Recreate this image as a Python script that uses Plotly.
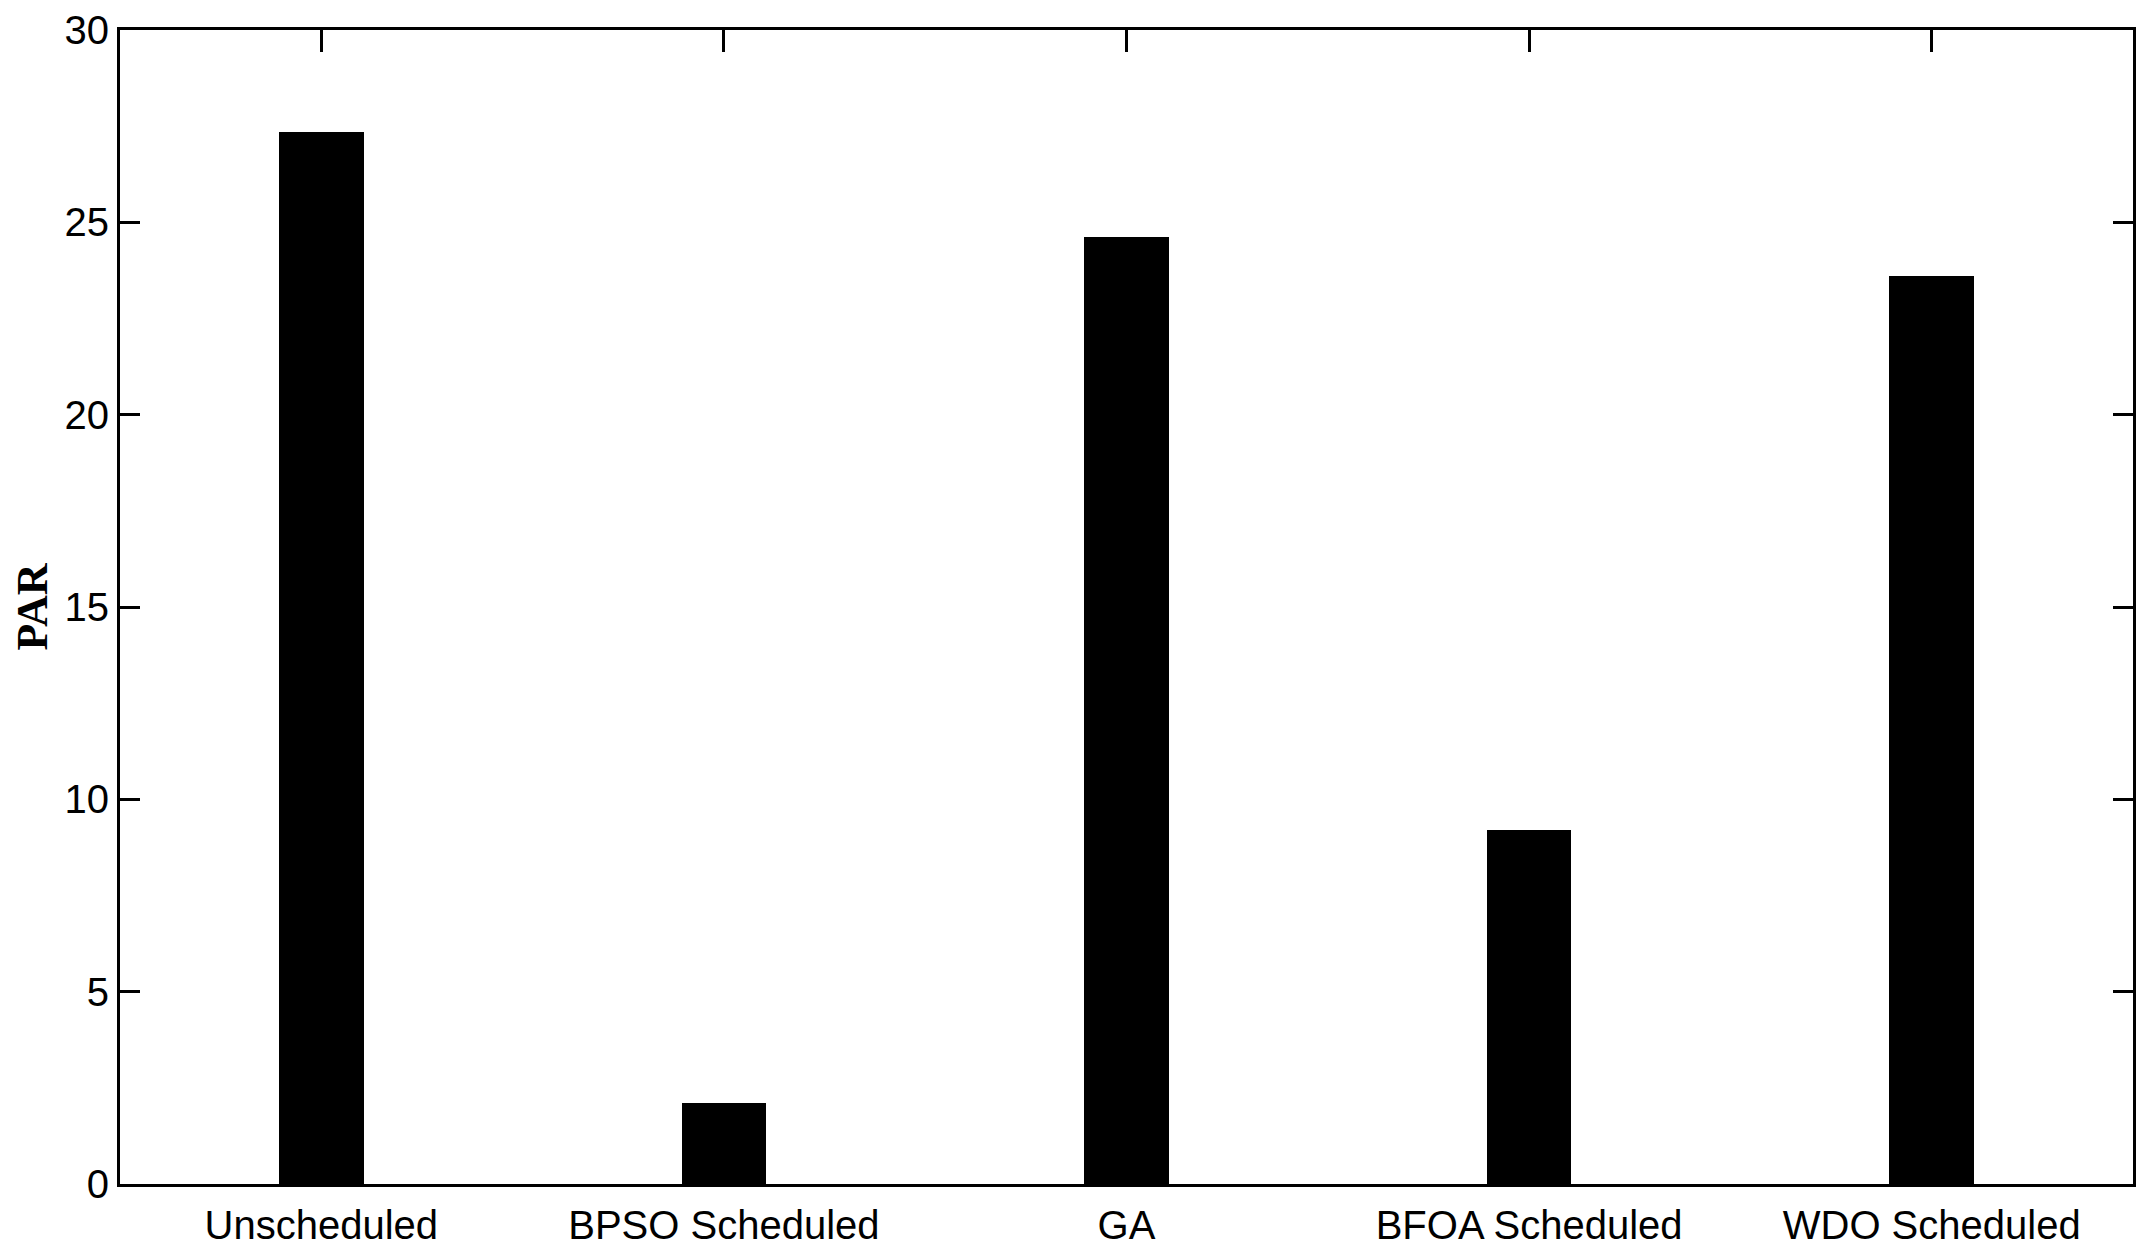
import plotly.graph_objects as go

# PAR per scheduling method
methods = ['Unscheduled', 'BPSO Scheduled', 'GA', 'BFOA Scheduled', 'WDO Scheduled']
par = [27.35, 2.10, 24.63, 9.20, 23.60]
y_ticks = [0, 5, 10, 15, 20, 25, 30]

fig = go.Figure()
fig.add_trace(go.Bar(x=methods, y=par, width=0.21,
                     marker=dict(color='black', line=dict(width=0))))

ax_font = dict(family='Liberation Sans Narrow, Arial Narrow, Liberation Sans, sans-serif',
               size=40, color='black')

fig.update_xaxes(range=[-0.5, 4.5], showline=True, linecolor='black', linewidth=3,
                 mirror='ticks', ticks='inside', ticklen=22, tickwidth=3, tickcolor='black',
                 tickfont=ax_font, showgrid=False, zeroline=False, automargin=False,
                 ticklabelstandoff=4)
fig.update_yaxes(range=[0, 30], tickvals=y_ticks, showline=True, linecolor='black', linewidth=3,
                 mirror='ticks', ticks='inside', ticklen=20, tickwidth=3, tickcolor='black',
                 tickfont=ax_font, showgrid=False, zeroline=False, automargin=False,
                 title=dict(text='PAR', font=dict(family='Liberation Serif, Times New Roman, serif',
                                                  size=44, color='black', weight='bold'), standoff=10))

fig.update_layout(width=2155, height=1260, plot_bgcolor='white', paper_bgcolor='white',
                  margin=dict(l=112, r=30, t=22, b=84), showlegend=False, bargap=0)

fig.write_html("out.html")
